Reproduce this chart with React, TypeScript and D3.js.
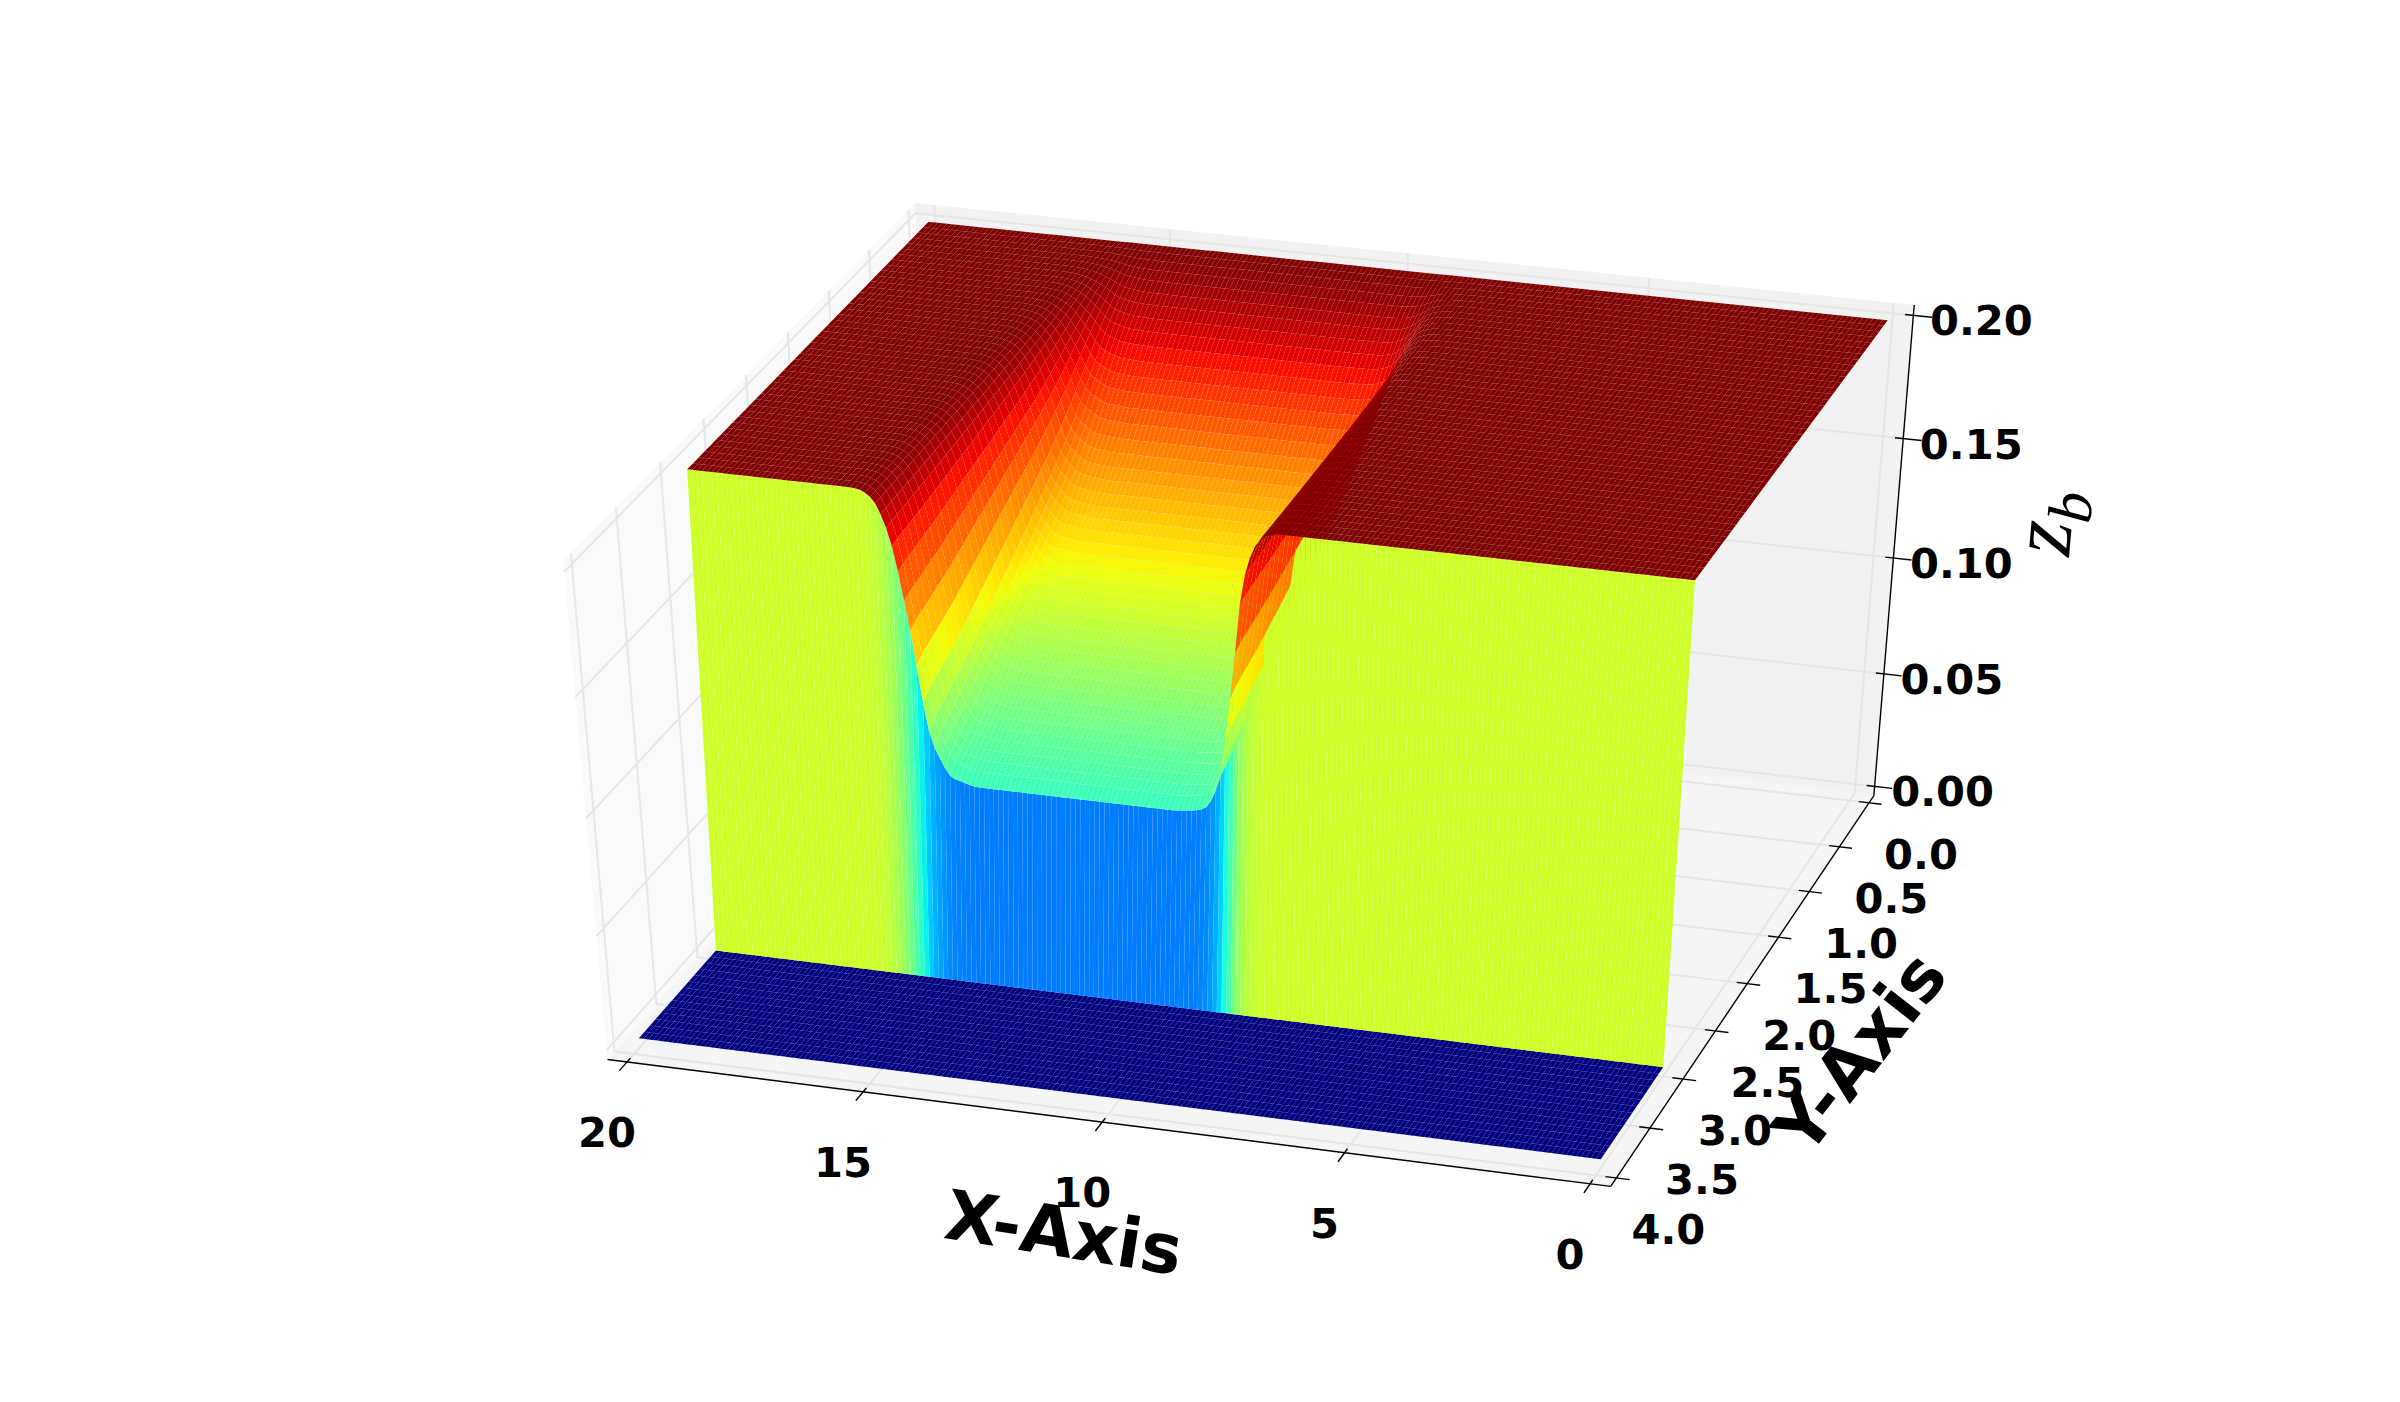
import { useEffect, useRef } from 'react';
import * as d3 from 'd3';

const WIDTH = 2400;
const HEIGHT = 1402;

const xTicks = [0, 5, 10, 15, 20];
const yTicks = [0, 0.5, 1, 1.5, 2, 2.5, 3, 3.5, 4];
const zTicks = [0, 0.05, 0.1, 0.15, 0.2];

const zPlateau = 0.2;

// depth of the channel floor, read along the channel for each mesh row (dy = 1/15)
const channelFloor = [
  0.2, 0.1995, 0.1985, 0.197, 0.195, 0.1925, 0.19, 0.187, 0.184, 0.1805,
  0.1765, 0.1725, 0.1685, 0.1645, 0.1605, 0.1565, 0.153, 0.1495, 0.1465, 0.1435,
  0.1405, 0.138, 0.1355, 0.133, 0.1305, 0.128, 0.1255, 0.123, 0.1205, 0.118,
  0.1155, 0.113, 0.1105, 0.108, 0.1055, 0.103, 0.1005, 0.098, 0.096, 0.094,
  0.092, 0.09, 0.0882, 0.0862, 0.0825,
];

const rightEdgeStart = 81;
const rightEdge = [
  0, 0.002, 0.005, 0.012, 0.025, 0.05, 0.09, 0.15, 0.25, 0.42, 0.58,
  0.73, 0.84, 0.91, 0.95, 0.975, 0.985, 0.99, 0.993, 0.995, 0.997, 0.999,
];
const leftEdgeStart = 144;
const leftEdge = [
  0.998, 0.995, 0.99, 0.985, 0.98, 0.97, 0.945, 0.91, 0.875, 0.82, 0.72, 0.59,
  0.47, 0.37, 0.27, 0.185, 0.125, 0.08, 0.045, 0.025, 0.012, 0.005, 0.002, 0,
];

const xCells = 200;
const topRows = channelFloor.length; // rows 0..44 are on the raised block
const allRows = 60; // rows 45..59 are the floor

// pane box is padded by 1/48 of the range, like mplot3d
const xb0 = -20 / 48;
const xb1 = 20 + 20 / 48;
const yb0 = -4 / 48;
const yb1 = 4 + 4 / 48;
const zb0 = -0.2 / 48;
const zb1 = 0.2 + 0.2 / 48;

// picture positions of known data points, the camera is solved from these
const calibration = [
  [20, 0, 0.2, 929, 222],
  [0, 0, 0.2, 1887, 320],
  [20, 44 / 15, 0.2, 687, 469],
  [0, 44 / 15, 0.2, 1694, 581],
  [20, 3, 0, 716, 952],
  [0, 3, 0, 1662, 1068],
  [20, 59 / 15, 0, 639, 1041],
  [0, 59 / 15, 0, 1601, 1159],
  [xb0, 0, zb0, 1870, 803],
  [xb0, 1, zb0, 1810, 892],
  [xb0, 2, zb0, 1747, 984],
  [xb0, 3, zb0, 1682, 1079],
  [xb0, 4, zb0, 1618, 1178],
  [xb0, yb1, zb0, 1611, 1187],
  [xb0, yb0, zb0, 1872, 795],
  [xb0, yb0, 0.2, 1914, 315],
  [xb0, yb0, 0.1, 1893, 558],
  [xb0, yb0, 0, 1875, 786],
  [xb0, yb0, zb1, 1915, 305],
  [20, yb1, zb0, 628, 1060],
  [10, yb1, zb0, 1102, 1123],
  [0, yb1, zb0, 1591, 1182],
  [xb1, yb1, zb0, 606, 1057],
];

const xNorm = d3.scaleLinear().domain([0, 20]).range([0, 1]);
const yNorm = d3.scaleLinear().domain([0, 4]).range([0, 1]);
const zNorm = d3.scaleLinear().domain([0, 0.2]).range([0, 1]);

function solve(A: number[][], b: number[]) {
  const n = b.length;
  const m = A.map((row, i) => [...row, b[i]]);
  for (let c = 0; c < n; c++) {
    let piv = c;
    for (let r = c + 1; r < n; r++) if (Math.abs(m[r][c]) > Math.abs(m[piv][c])) piv = r;
    [m[c], m[piv]] = [m[piv], m[c]];
    for (let r = 0; r < n; r++) {
      if (r === c) continue;
      const f = m[r][c] / m[c][c];
      for (let k = c; k <= n; k++) m[r][k] -= f * m[c][k];
    }
  }
  return m.map((row, i) => row[n] / row[i]);
}

// least squares fit of a 3x4 camera matrix
function fitCamera() {
  const AtA = d3.range(11).map(() => d3.range(11).map(() => 0));
  const Atb = d3.range(11).map(() => 0);
  const addRow = (row: number[], v: number) => {
    row.forEach((a, i) => {
      row.forEach((c, j) => { AtA[i][j] += a * c; });
      Atb[i] += a * v;
    });
  };
  calibration.forEach(([x, y, z, u0, v0]) => {
    const X = xNorm(x), Y = yNorm(y), Z = zNorm(z);
    const u = u0 / 1000, v = v0 / 1000;
    addRow([X, Y, Z, 1, 0, 0, 0, 0, -u * X, -u * Y, -u * Z], u);
    addRow([0, 0, 0, 0, X, Y, Z, 1, -v * X, -v * Y, -v * Z], v);
  });
  return solve(AtA, Atb);
}

const cam = fitCamera();

function project(x: number, y: number, z: number) {
  const X = xNorm(x), Y = yNorm(y), Z = zNorm(z);
  const w = cam[8] * X + cam[9] * Y + cam[10] * Z + 1;
  return {
    px: ((cam[0] * X + cam[1] * Y + cam[2] * Z + cam[3]) / w) * 1000,
    py: ((cam[4] * X + cam[5] * Y + cam[6] * Z + cam[7]) / w) * 1000,
    w,
  };
}

// matplotlib's jet segment table, channel by channel
const jetR = d3.scaleLinear().domain([0, 0.35, 0.66, 0.89, 1]).range([0, 0, 255, 255, 127]);
const jetG = d3.scaleLinear().domain([0, 0.125, 0.375, 0.64, 0.91, 1]).range([0, 0, 255, 255, 0, 0]);
const jetB = d3.scaleLinear().domain([0, 0.11, 0.34, 0.65, 1]).range([127, 255, 255, 0, 0]);
const jet = (t: number) => `rgb(${jetR(t)},${jetG(t)},${jetB(t)})`;

function crossSection(i: number) {
  if (i < rightEdgeStart) return 0;
  if (i < rightEdgeStart + rightEdge.length) return rightEdge[i - rightEdgeStart];
  if (i < leftEdgeStart) return 1;
  if (i < leftEdgeStart + leftEdge.length) return leftEdge[i - leftEdgeStart];
  return 0;
}

function surfaceZ(i: number, k: number) {
  if (k >= topRows) return 0;
  return zPlateau - (zPlateau - channelFloor[k]) * crossSection(i);
}

function buildCells() {
  const line = d3.line();
  const cells: { d: string; fill: string; depth: number }[] = [];
  for (let k = 0; k < allRows - 1; k++) {
    for (let i = 0; i < xCells; i++) {
      const corners = [[i, k], [i + 1, k], [i + 1, k + 1], [i, k + 1]];
      const zs = corners.map(([a, b]) => surfaceZ(a, b));
      const pts = corners.map(([a, b], n) => project(a / 10, b / 15, zs[n]));
      // mplot3d averaged over five perimeter points, one corner counted twice
      const avg = (zs[0] * 2 + zs[1] + zs[2] + zs[3]) / 5;
      cells.push({
        d: line(pts.map((p) => [p.px, p.py]) as [number, number][]) + 'Z',
        fill: jet(zNorm(avg)),
        depth: d3.mean(pts, (p) => p.w) as number,
      });
    }
  }
  return cells.sort((a, b) => b.depth - a.depth);
}

function polygon(points: number[][]) {
  const pts = points.map(([x, y, z]) => project(x, y, z));
  return d3.line()(pts.map((p) => [p.px, p.py]) as [number, number][]) + 'Z';
}

function App() {
  const svgRef = useRef<SVGSVGElement>(null);

  useEffect(() => {
    const svg = d3.select(svgRef.current);
    svg.selectAll('*').remove();

    // panes
    const panes = [
      { fill: '#f9f9f9', pts: [[xb1, yb0, zb0], [xb1, yb1, zb0], [xb1, yb1, zb1], [xb1, yb0, zb1]] },
      { fill: '#f2f2f2', pts: [[xb0, yb0, zb0], [xb1, yb0, zb0], [xb1, yb0, zb1], [xb0, yb0, zb1]] },
      { fill: '#f5f5f5', pts: [[xb0, yb0, zb0], [xb1, yb0, zb0], [xb1, yb1, zb0], [xb0, yb1, zb0]] },
    ];
    svg.append('g').selectAll('path').data(panes).join('path')
      .attr('d', (d) => polygon(d.pts))
      .attr('fill', (d) => d.fill);

    // grid
    const gridLines: number[][][] = [];
    xTicks.forEach((x) => {
      gridLines.push([[x, yb1, zb0], [x, yb0, zb0], [x, yb0, zb1]]);
    });
    yTicks.forEach((y) => {
      gridLines.push([[xb0, y, zb0], [xb1, y, zb0], [xb1, y, zb1]]);
    });
    zTicks.forEach((z) => {
      gridLines.push([[xb0, yb0, z], [xb1, yb0, z], [xb1, yb1, z]]);
    });
    const line3d = (pts: number[][]) =>
      d3.line()(pts.map(([x, y, z]) => {
        const p = project(x, y, z);
        return [p.px, p.py] as [number, number];
      }));
    svg.append('g').selectAll('path').data(gridLines).join('path')
      .attr('d', (d) => line3d(d))
      .attr('fill', 'none')
      .attr('stroke', '#e6e6e6')
      .attr('stroke-width', 2);

    // axis lines and ticks
    const axisLines = [
      [[xb0, yb1, zb0], [xb1, yb1, zb0]],
      [[xb0, yb0, zb0], [xb0, yb1, zb0]],
      [[xb0, yb0, zb0], [xb0, yb0, zb1]],
      ...xTicks.map((x) => [[x, yb1 - 0.04, zb0], [x, yb1 + 0.09, zb0]]),
      ...yTicks.map((y) => [[xb0 + 0.22, y, zb0], [xb0 - 0.27, y, zb0]]),
      ...zTicks.map((z) => [[xb0 + 0.17, yb0, z], [xb0 - 0.38, yb0, z]]),
    ];
    svg.append('g').selectAll('path').data(axisLines).join('path')
      .attr('d', (d) => line3d(d))
      .attr('fill', 'none')
      .attr('stroke', '#000')
      .attr('stroke-width', 1.4);

    // surface
    svg.append('g').selectAll('path').data(buildCells()).join('path')
      .attr('d', (d) => d.d)
      .attr('fill', (d) => d.fill);

    // tick labels
    const tickLabels = [
      ...xTicks.map((x) => ({ p: project(x, yb1, zb0), text: String(x), dx: -20, dy: 70 })),
      ...yTicks.map((y) => ({ p: project(xb0, y, zb0), text: d3.format('.1f')(y), dx: 52, dy: 51 })),
      ...zTicks.map((z) => ({ p: project(xb0, yb0, z), text: d3.format('.2f')(z), dx: 68, dy: 5 })),
    ];
    svg.append('g').selectAll('text').data(tickLabels).join('text')
      .attr('x', (d) => d.p.px + d.dx)
      .attr('y', (d) => d.p.py + d.dy)
      .attr('dy', '0.36em')
      .attr('text-anchor', 'middle')
      .attr('font-family', '"DejaVu Sans"')
      .attr('font-weight', 700)
      .attr('font-size', 41.67)
      .text((d) => d.text);

    // axis titles
    const titles = [
      { text: 'X-Axis', x: 1064, y: 1232, rot: 9 },
      { text: 'Y-Axis', x: 1859, y: 1052, rot: -52 },
    ];
    svg.append('g').selectAll('text').data(titles).join('text')
      .attr('transform', (d) => `translate(${d.x},${d.y}) rotate(${d.rot})`)
      .attr('dy', '0.36em')
      .attr('text-anchor', 'middle')
      .attr('font-family', '"DejaVu Sans"')
      .attr('font-weight', 700)
      .attr('font-size', 69)
      .text((d) => d.text);

    const zLabel = svg.append('text')
      .attr('transform', 'translate(2069,557) rotate(-85)')
      .attr('font-family', '"Liberation Serif"')
      .attr('font-style', 'italic')
      .attr('font-size', 88);
    zLabel.append('tspan').text('z');
    zLabel.append('tspan').attr('dy', 18).attr('font-size', 62).text('b');
  }, []);

  return (
    <svg
      ref={svgRef}
      width={WIDTH}
      height={HEIGHT}
      style={{ position: 'absolute', left: 0, top: 0, display: 'block', background: '#fff' }}
    />
  );
}

export default App;
